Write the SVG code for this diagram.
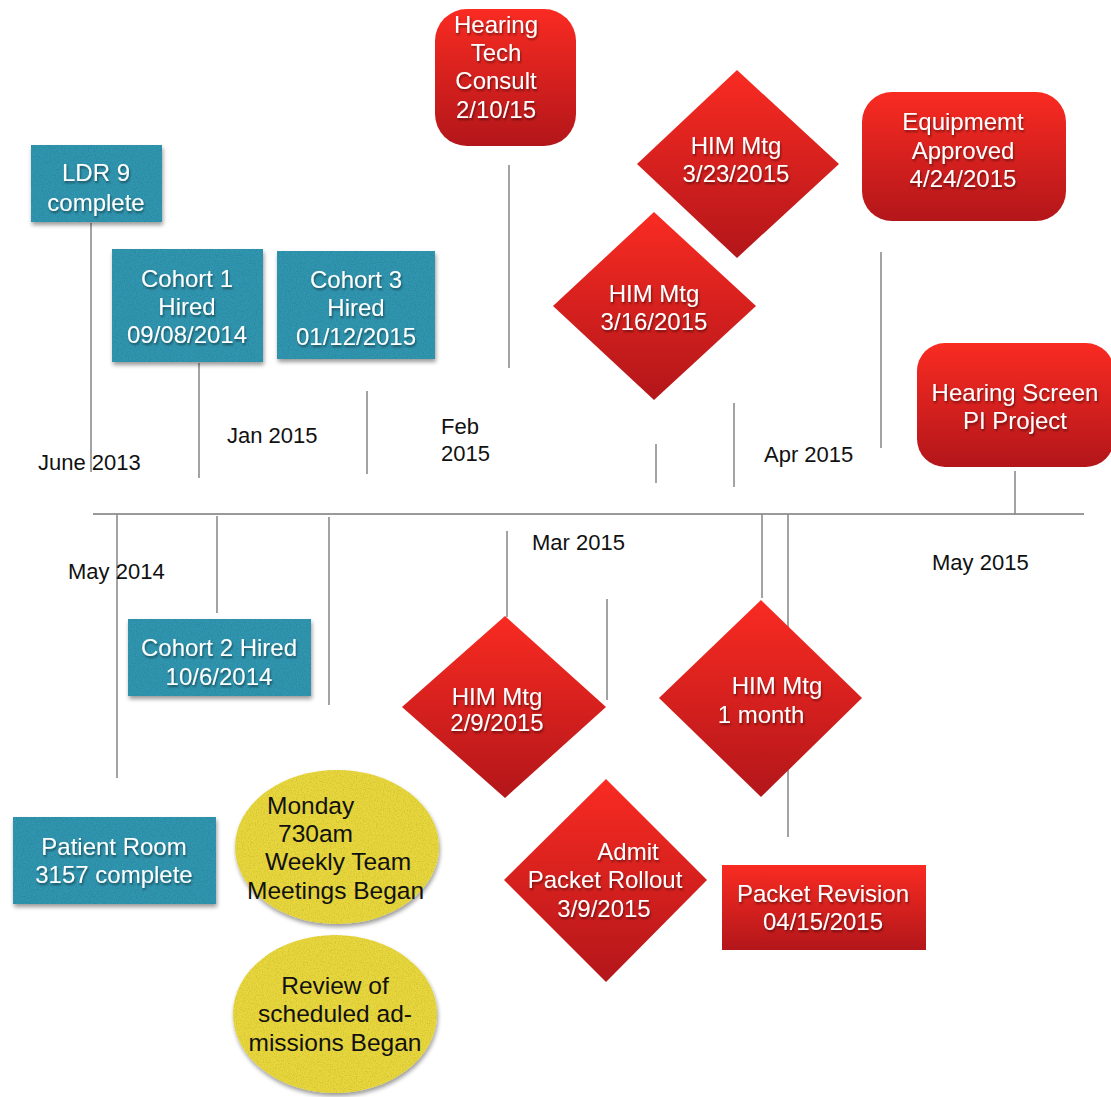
<svg xmlns="http://www.w3.org/2000/svg" width="1111" height="1097" viewBox="0 0 1111 1097">
<style>
.ax{font-family:"Liberation Sans",Arial,sans-serif;font-size:22px;fill:#111}
.wt{font-family:"Liberation Sans",Arial,sans-serif;font-size:24px;fill:#fff;text-anchor:middle}
.bk{font-family:"Liberation Sans",Arial,sans-serif;font-size:24.5px;fill:#111}
.teal{fill:#3196b0}
.yel{fill:#e9d83e}
.red{fill:url(#rg)}
.ln{stroke:#8c8c8c;stroke-width:1.6;fill:none}
.axis{stroke:#9a9a9a;stroke-width:2.2;fill:none}
</style>
<defs>
<linearGradient id="rg" x1="0" y1="0" x2="0" y2="1">
<stop offset="0" stop-color="#f92b22"/>
<stop offset="1" stop-color="#b3161a"/>
</linearGradient>
<filter id="tex" x="-10%" y="-10%" width="125%" height="135%">
<feTurbulence type="fractalNoise" baseFrequency="0.85" numOctaves="2" seed="4" result="noise"/>
<feColorMatrix in="noise" type="matrix" values="0 0 0 0 0  0 0 0 0 0  0 0 0 0 0  0 0 0 0.5 -0.2" result="speck"/>
<feComposite in="speck" in2="SourceGraphic" operator="in" result="speckIn"/>
<feGaussianBlur in="SourceAlpha" stdDeviation="2" result="blur"/>
<feOffset in="blur" dx="1" dy="3" result="off"/>
<feComponentTransfer in="off" result="shadow"><feFuncA type="linear" slope="0.4"/></feComponentTransfer>
<feMerge><feMergeNode in="shadow"/><feMergeNode in="SourceGraphic"/><feMergeNode in="speckIn"/></feMerge>
</filter>
<filter id="ts" x="-10%" y="-20%" width="120%" height="150%">
<feDropShadow dx="1" dy="2" stdDeviation="1.2" flood-color="#000" flood-opacity="0.45"/>
</filter>
</defs>
<rect width="1111" height="1097" fill="#fff"/>

<g id="connectors">
<line class="axis" x1="93" y1="514" x2="1084" y2="514"/>
<line class="ln" x1="91" y1="223" x2="91" y2="472"/>
<line class="ln" x1="199" y1="363" x2="199" y2="478"/>
<line class="ln" x1="367" y1="391" x2="367" y2="474"/>
<line class="ln" x1="509" y1="165" x2="509" y2="368"/>
<line class="ln" x1="656" y1="444" x2="656" y2="483"/>
<line class="ln" x1="734" y1="403" x2="734" y2="487"/>
<line class="ln" x1="881" y1="252" x2="881" y2="448"/>
<line class="ln" x1="1015" y1="471" x2="1015" y2="515"/>
<line class="ln" x1="117" y1="514" x2="117" y2="778"/>
<line class="ln" x1="217" y1="516" x2="217" y2="613"/>
<line class="ln" x1="329" y1="517" x2="329" y2="705"/>
<line class="ln" x1="507" y1="531" x2="507" y2="617"/>
<line class="ln" x1="607" y1="599" x2="607" y2="700"/>
<line class="ln" x1="762" y1="514" x2="762" y2="598"/>
<line class="ln" x1="788" y1="514" x2="788" y2="837"/>
</g>

<g id="axis-labels">
<text class="ax" x="38" y="470">June 2013</text>
<text class="ax" x="227" y="443">Jan 2015</text>
<text class="ax" x="441" y="434">Feb</text>
<text class="ax" x="441" y="461">2015</text>
<text class="ax" x="764" y="462">Apr 2015</text>
<text class="ax" x="68" y="579">May 2014</text>
<text class="ax" x="532" y="550">Mar 2015</text>
<text class="ax" x="932" y="570">May 2015</text>
</g>

<g id="ldr9">
<rect class="teal" x="31" y="145" width="131" height="77" filter="url(#tex)"/>
<g filter="url(#ts)"><text class="wt" x="96" y="181">LDR 9</text><text class="wt" x="96" y="211">complete</text></g>
</g>

<g id="cohort1">
<rect class="teal" x="112" y="249" width="151" height="113" filter="url(#tex)"/>
<g filter="url(#ts)"><text class="wt" x="187" y="287">Cohort 1</text><text class="wt" x="187" y="315">Hired</text><text class="wt" x="187" y="343">09/08/2014</text></g>
</g>

<g id="cohort3">
<rect class="teal" x="277" y="251" width="158" height="108" filter="url(#tex)"/>
<g filter="url(#ts)"><text class="wt" x="356" y="288">Cohort 3</text><text class="wt" x="356" y="316">Hired</text><text class="wt" x="356" y="345">01/12/2015</text></g>
</g>

<g id="cohort2">
<rect class="teal" x="128" y="619" width="183" height="77" filter="url(#tex)"/>
<g filter="url(#ts)"><text class="wt" x="219" y="656">Cohort 2 Hired</text><text class="wt" x="219" y="685">10/6/2014</text></g>
</g>

<g id="patient-room">
<rect class="teal" x="13" y="817" width="203" height="87" filter="url(#tex)"/>
<g filter="url(#ts)"><text class="wt" x="114" y="855">Patient Room</text><text class="wt" x="114" y="883">3157 complete</text></g>
</g>

<g id="weekly-meetings">
<ellipse class="yel" cx="337" cy="847" rx="102" ry="77" filter="url(#tex)"/>
<text class="bk" x="267" y="814">Monday</text>
<text class="bk" x="278" y="842">730am</text>
<text class="bk" x="265" y="870">Weekly Team</text>
<text class="bk" x="247" y="899">Meetings Began</text>
</g>

<g id="review-admissions">
<ellipse class="yel" cx="335" cy="1014" rx="102" ry="79" filter="url(#tex)"/>
<text class="bk" x="335" y="994" text-anchor="middle">Review of</text>
<text class="bk" x="335" y="1022" text-anchor="middle">scheduled ad-</text>
<text class="bk" x="335" y="1051" text-anchor="middle">missions Began</text>
</g>

<g id="hearing-tech">
<rect class="red" x="435" y="9" width="141" height="137" rx="32"/>
<g filter="url(#ts)"><text class="wt" x="496" y="33">Hearing</text><text class="wt" x="496" y="61">Tech</text><text class="wt" x="496" y="89">Consult</text><text class="wt" x="496" y="118">2/10/15</text></g>
</g>

<g id="him-0323">
<polygon class="red" points="737,70 839,164 737,258 637,164"/>
<g filter="url(#ts)"><text class="wt" x="736" y="154">HIM Mtg</text><text class="wt" x="736" y="182">3/23/2015</text></g>
</g>

<g id="him-0316">
<polygon class="red" points="654,212 756,306 654,400 553,306"/>
<g filter="url(#ts)"><text class="wt" x="654" y="302">HIM Mtg</text><text class="wt" x="654" y="330">3/16/2015</text></g>
</g>

<g id="equipment">
<rect class="red" x="862" y="92" width="204" height="129" rx="30"/>
<g filter="url(#ts)"><text class="wt" x="963" y="130">Equipmemt</text><text class="wt" x="963" y="159">Approved</text><text class="wt" x="963" y="187">4/24/2015</text></g>
</g>

<g id="hearing-screen">
<rect class="red" x="917" y="343" width="197" height="124" rx="28"/>
<g filter="url(#ts)"><text class="wt" x="1015" y="401">Hearing Screen</text><text class="wt" x="1015" y="429">PI Project</text></g>
</g>

<g id="him-0209">
<polygon class="red" points="505,616 606,707 505,798 402,707"/>
<g filter="url(#ts)"><text class="wt" x="497" y="705">HIM Mtg</text><text class="wt" x="497" y="731">2/9/2015</text></g>
</g>

<g id="him-1month">
<polygon class="red" points="761,600 862,698 761,797 659,698"/>
<g filter="url(#ts)"><text class="wt" x="777" y="694">HIM Mtg</text><text class="wt" x="761" y="723">1 month</text></g>
</g>

<g id="admit-packet">
<polygon class="red" points="606,779 707,880 606,982 504,880"/>
<g filter="url(#ts)"><text class="wt" x="628" y="860">Admit</text><text class="wt" x="605" y="888">Packet Rollout</text><text class="wt" x="604" y="917">3/9/2015</text></g>
</g>

<g id="packet-revision">
<rect class="red" x="722" y="865" width="204" height="85"/>
<g filter="url(#ts)"><text class="wt" x="823" y="902">Packet Revision</text><text class="wt" x="823" y="930">04/15/2015</text></g>
</g>
</svg>
